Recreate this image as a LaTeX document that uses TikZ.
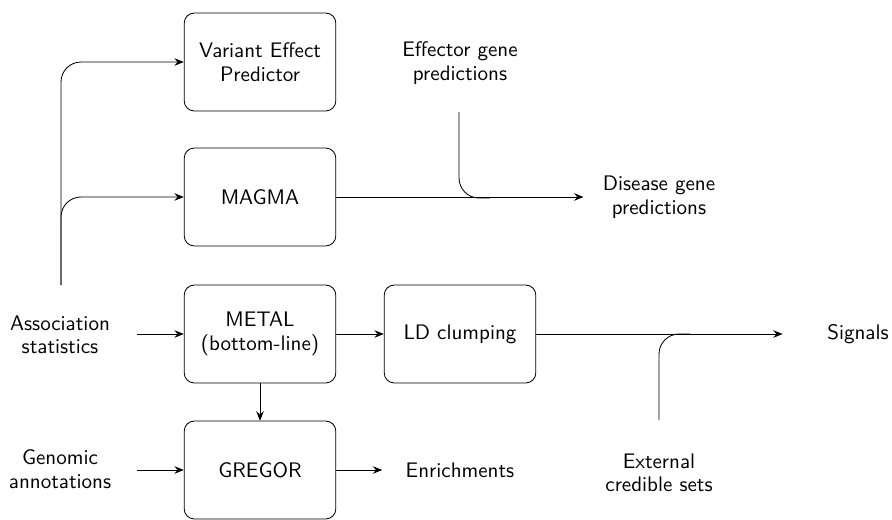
\documentclass[tikz,border=0pt]{standalone}
\usetikzlibrary{arrows.meta}
\begin{document}
\begin{tikzpicture}[x=0.475pt, y=-0.475pt,
  font=\sffamily\fontsize{10}{11.2}\selectfont,
  proc/.style={draw, rounded corners=4.75pt, minimum width=72pt, minimum height=46.5pt,
    align=center, inner sep=2pt},
  lbl/.style={align=center, inner sep=0pt},
  arr/.style={-{Stealth[length=4.5pt, width=3.6pt, inset=1.6pt]}},
  roundbend/.style={rounded corners=9.5pt}]
\useasboundingbox (0,0) rectangle (892,519);

% processing steps
\node[proc] (vep)   at (260,62)  {Variant Effect\\Predictor};
\node[proc] (magma) at (260,197) {MAGMA};
\node[proc] (metal) at (260,334) {METAL\\(bottom-line)};
\node[proc] (ld)    at (460,334) {LD clumping};
\node[proc] (gregor) at (260,470) {GREGOR};

% inputs and outputs
\node[lbl] (assoc)   at (60,335)  {Association\\statistics};
\node[lbl] (genomic) at (60,469)  {Genomic\\annotations};
\node[lbl] (effector) at (460,63) {Effector gene\\predictions};
\node[lbl] (disease) at (659,197) {Disease gene\\predictions};
\node[lbl] (signals) at (858,334) {Signals};
\node[lbl] (enrich)  at (460,470) {Enrichments};
\node[lbl] (external) at (659,473) {External\\credible sets};

\coordinate (trunk) at (61,285);
\coordinate (effstart) at (459,112);
\coordinate (effjoin) at (490,198);
\coordinate (extstart) at (659,420);
\coordinate (extjoin) at (690,334);

% association statistics fan out to the annotation tools
\draw[arr, roundbend] (trunk) |- (vep.west);
\draw[arr, roundbend] (trunk) |- (magma.west);
\draw[arr] (137,334) coordinate (assocout) -- (metal.west);
\draw[arr] (137,470) coordinate (genomicout) -- (gregor.west);

% main flow
\draw[arr] (metal) -- (ld);
\draw[arr] (metal) -- (gregor);
\draw[arr] (magma.east) -- ([xshift=-9pt]disease.west);
\draw[arr] (ld.east) -- ([xshift=-21pt]signals.west);
\draw[arr] (gregor.east) -- ([xshift=-11pt]enrich.west);

% merging inputs
\draw[roundbend] (effstart) |- (effjoin);
\draw[roundbend] (extstart) |- (extjoin);
\end{tikzpicture}
\end{document}
